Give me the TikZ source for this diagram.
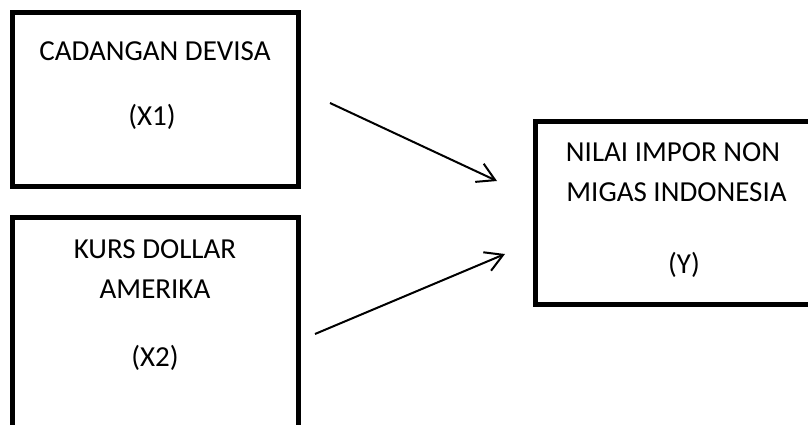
\documentclass[tikz,border=0pt]{standalone}
\usepackage{fontspec}
\setmainfont{Carlito}
\usetikzlibrary{arrows.meta}
\begin{document}
\begin{tikzpicture}[x=0.75pt,y=-0.75pt,
  box/.style={draw=black,line width=3.75pt,rectangle,inner sep=0pt,outer sep=0pt,fill=none},
  lbl/.style={anchor=base,inner sep=0pt,font=\fontsize{21.75pt}{26pt}\selectfont},
  conn/.style={line width=1.5pt,-{Straight Barb[length=13pt,width=15pt,line width=1.5pt]}}]
\useasboundingbox[fill=white] (0,0) rectangle (808,425);
\begin{scope}
\clip (0,0) rectangle (808,425);
\node[box,minimum width=214.5pt,minimum height=130.125pt] (x1) at (155,99.25) {};
\node[box,minimum width=214.5pt,minimum height=170.6pt] (x2) at (155,331.25) {};
\node[box,minimum width=213.4pt,minimum height=137.6pt] (y) at (677.75,212.75) {};
\end{scope}
\node[lbl] (t1a) at (155,60) {CADANGAN DEVISA};
\node[lbl] (t1b) at (152,125) {(X1)};
\node[lbl] (t2a) at (155,258.3) {KURS DOLLAR};
\node[lbl] (t2b) at (155,298.3) {AMERIKA};
\node[lbl] (t2c) at (155,366) {(X2)};
\node[lbl] (t3a) at (673,161.7) {NILAI IMPOR NON};
\node[lbl] (t3b) at (676.5,201.7) {MIGAS INDONESIA};
\node[lbl] (t3c) at (684,273) {(Y)};
\coordinate (a1s) at (330,103);
\coordinate (a1e) at (497,181);
\coordinate (a2s) at (315,334);
\coordinate (a2e) at (505,254);
\draw[conn] (a1s) -- (a1e);
\draw[conn] (a2s) -- (a2e);
\end{tikzpicture}
\end{document}
